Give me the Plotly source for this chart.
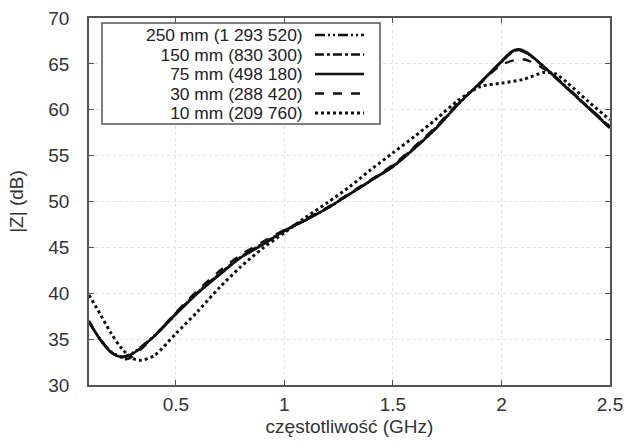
import plotly.graph_objects as go

# ---- data ----
freq_75 = [0.1, 0.15, 0.2, 0.25, 0.3, 0.4, 0.5, 0.6, 0.7, 0.8, 0.9, 1.0, 1.1, 1.2, 1.3, 1.4,
           1.5, 1.6, 1.7, 1.8, 1.9, 2.0, 2.05, 2.08, 2.12, 2.2, 2.3, 2.4, 2.5]
z_75 = [36.9, 35.0, 33.6, 33.05, 33.4, 35.3, 37.7, 40.0, 42.0, 43.9, 45.3, 46.8, 48.0, 49.3, 50.8, 52.3,
        53.8, 55.8, 58.0, 60.6, 62.9, 65.3, 66.4, 66.6, 66.2, 64.6, 62.4, 60.2, 58.0]
z_250 = [36.8, 35.1, 33.7, 33.1, 33.5, 35.4, 37.8, 40.1, 42.1, 43.9, 45.4, 46.8, 48.0, 49.3, 50.8, 52.3,
         53.8, 55.8, 58.0, 60.6, 62.9, 65.2, 66.3, 66.5, 66.1, 64.6, 62.5, 60.3, 58.1]
z_150 = [36.9, 35.0, 33.6, 33.0, 33.4, 35.3, 37.8, 40.1, 42.1, 44.0, 45.4, 46.8, 48.0, 49.3, 50.8, 52.3,
         53.9, 55.9, 58.1, 60.6, 62.9, 65.2, 66.3, 66.5, 66.1, 64.6, 62.4, 60.2, 58.0]

freq_30 = [0.1, 0.15, 0.2, 0.27, 0.3, 0.4, 0.5, 0.6, 0.7, 0.8, 0.9, 1.0, 1.1, 1.2, 1.3, 1.4,
           1.5, 1.6, 1.7, 1.8, 1.9, 2.0, 2.1, 2.2, 2.3, 2.4, 2.5]
z_30 = [37.0, 35.0, 33.6, 32.8, 33.1, 35.3, 37.9, 40.3, 42.4, 44.2, 45.6, 46.9, 48.1, 49.4, 50.9, 52.4,
        54.0, 56.0, 58.2, 60.7, 62.8, 64.9, 65.5, 64.4, 62.4, 60.3, 58.2]

freq_10 = [0.1, 0.15, 0.2, 0.25, 0.3, 0.34, 0.4, 0.5, 0.6, 0.7, 0.8, 0.9, 1.0, 1.1, 1.2, 1.3, 1.4,
           1.5, 1.6, 1.7, 1.8, 1.9, 2.0, 2.1, 2.2, 2.25, 2.3, 2.4, 2.5]
z_10 = [39.8, 37.8, 35.7, 34.0, 32.9, 32.7, 33.2, 35.6, 38.0, 40.6, 42.9, 44.9, 46.6, 48.3, 49.9, 51.6, 53.5,
        55.3, 57.1, 59.0, 61.0, 62.5, 62.9, 63.3, 64.1, 63.9, 63.0, 60.9, 58.9]

labels = ["250 mm (1 293 520)", "150 mm (830 300)", "75 mm (498 180)", "30 mm (288 420)", "10 mm (209 760)"]
x_ticks = [0.5, 1, 1.5, 2, 2.5]
x_ticklabels = ["0.5", "1", "1.5", "2", "2.5"]
y_ticks = [30, 35, 40, 45, 50, 55, 60, 65, 70]

series = [
    (labels[0], freq_75, z_250, "10px,3px,2px,3px,2px,3px", 2.4),
    (labels[1], freq_75, z_150, "dashdot", 2.4),
    (labels[2], freq_75, z_75, "solid", 2.6),
    (labels[3], freq_30, z_30, "dash", 2.4),
    (labels[4], freq_10, z_10, "dot", 3.0),
]

fig = go.Figure()
for name, xs, ys, dash, w in series:
    fig.add_trace(go.Scatter(x=xs, y=ys, mode="lines", name=name,
                             line=dict(color="#111111", width=w, dash=dash, shape="spline", smoothing=0.8),
                             showlegend=False))

FONT = "Liberation Sans, Arial, sans-serif"
W, H = 629, 443
L, R, T, B = 89, 19, 18, 58
pw, ph = W - L - R, H - T - B

def px(xp):
    return (xp - L) / pw

def py(yp):
    return (H - B - yp) / ph

# manual legend (text left of key, as in the reference)
fig.add_shape(type="rect", xref="paper", yref="paper",
              x0=px(102), x1=px(380), y0=py(124), y1=py(23),
              line=dict(color="#555555", width=1.5), fillcolor="white", layer="above")
row_y = [35, 54.5, 74, 93.5, 113]
legend_text = "<br>".join('<span style="font-size:17.4px">%s</span>' % s for s in labels)
fig.add_annotation(xref="paper", yref="paper", x=px(305), y=py(sum(row_y) / len(row_y)),
                   text=legend_text, showarrow=False, xanchor="right", yanchor="middle",
                   align="right", font=dict(family=FONT, size=15, color="#222222"))
for (name, xs, ys, dash, w), yy in zip(series, row_y):
    fig.add_shape(type="line", xref="paper", yref="paper",
                  x0=px(315), x1=px(364), y0=py(yy), y1=py(yy),
                  line=dict(color="#111111", width=w, dash=dash), layer="above")

axis_common = dict(
    showline=True, linecolor="#555555", linewidth=1.5, mirror="ticks",
    ticks="inside", ticklen=5, tickcolor="#555555", automargin=False,
    showgrid=True, gridcolor="#e2e2e2", griddash="dot", gridwidth=1,
    zeroline=False, tickfont=dict(family=FONT, size=19, color="#333333"),
)

fig.update_xaxes(range=[0.1, 2.5], tickvals=x_ticks, ticktext=x_ticklabels, ticklabelstandoff=1,
                 title=dict(text="częstotliwość (GHz)", font=dict(family=FONT, size=19, color="#333333"), standoff=6),
                 **axis_common)
fig.update_yaxes(range=[30, 70], tickvals=y_ticks, ticklabelstandoff=14,
                 title=dict(text="|Z| (dB)", font=dict(family=FONT, size=19, color="#333333"), standoff=20),
                 **axis_common)

fig.update_layout(width=W, height=H, margin=dict(l=L, r=R, t=T, b=B, autoexpand=False),
                  paper_bgcolor="white", plot_bgcolor="white", showlegend=False)

fig.write_html("out.html", config={"displayModeBar": False},
               post_script="document.body.style.margin='0';document.body.style.overflow='hidden';")
